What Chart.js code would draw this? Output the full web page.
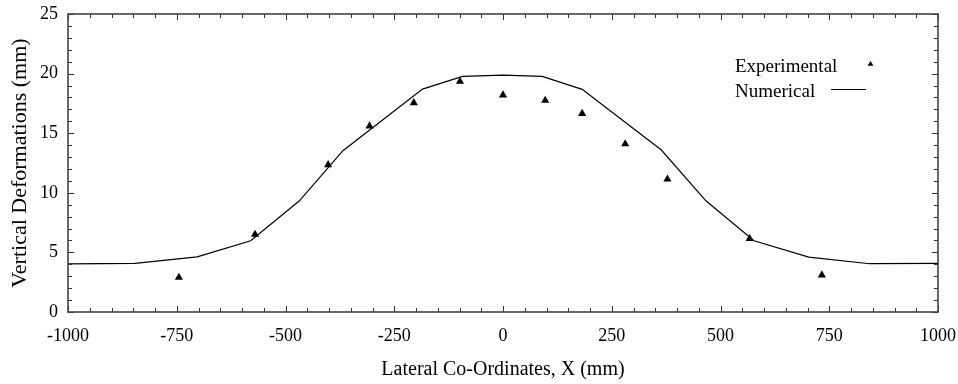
<!DOCTYPE html>
<html><head><meta charset="utf-8">
<script src="https://cdn.jsdelivr.net/npm/chart.js@4/dist/chart.umd.min.js"></script>
<style>html,body{margin:0;padding:0;background:#fff}</style>
</head><body>
<canvas id="c" width="958" height="384"></canvas>
<script>
// Experimental (triangles)
const expX = [-745, -570, -402, -307, -205, -99, 0, 97, 182, 281, 378, 567, 733];
const expY = [2.9, 6.5, 12.35, 15.6, 17.55, 19.35, 18.2, 17.75, 16.65, 14.1, 11.15, 6.15, 3.1];
// Numerical (line)
const numX = [-1000, -846, -703, -580, -468, -368, -185, -93, 0, 90, 182, 364, 467, 577, 703, 843, 1000];
const numY = [4.03, 4.08, 4.63, 5.98, 9.33, 13.53, 18.7, 19.77, 19.88, 19.77, 18.68, 13.59, 9.31, 5.98, 4.61, 4.05, 4.08];
const xTicks = [-1000, -750, -500, -250, 0, 250, 500, 750, 1000];
const yTicks = [0, 5, 10, 15, 20, 25];
const xMinorStep = 50;
const yMinorStep = 1;

const FONT = "'Liberation Serif', 'Times New Roman', serif";

function tri(ctx, x, y, r) {
  ctx.beginPath();
  ctx.moveTo(x, y - r);
  ctx.lineTo(x + r * 0.866, y + r * 0.5);
  ctx.lineTo(x - r * 0.866, y + r * 0.5);
  ctx.closePath();
  ctx.fill();
}

const frameTicks = {
  id: 'frameTicks',
  afterDatasetsDraw(chart) {
    const ctx = chart.ctx, a = chart.chartArea;
    const xs = chart.scales.x, ys = chart.scales.y;
    ctx.save();
    ctx.strokeStyle = '#333';
    ctx.lineWidth = 1;
    for (let v = xs.min; v <= xs.max + 1e-9; v += xMinorStep) {
      const px = Math.round(xs.getPixelForValue(v)) + 0.5;
      const major = xTicks.includes(Math.round(v));
      const L = major ? 6 : 4;
      ctx.beginPath();
      ctx.moveTo(px, a.bottom); ctx.lineTo(px, a.bottom - L);
      ctx.moveTo(px, a.top); ctx.lineTo(px, a.top + L);
      ctx.stroke();
    }
    for (let v = ys.min; v <= ys.max + 1e-9; v += yMinorStep) {
      const py = Math.round(ys.getPixelForValue(v)) + 0.5;
      const major = yTicks.includes(Math.round(v));
      const L = major ? 6 : 4;
      ctx.beginPath();
      ctx.moveTo(a.left, py); ctx.lineTo(a.left + L, py);
      ctx.moveTo(a.right, py); ctx.lineTo(a.right - L, py);
      ctx.stroke();
    }
    ctx.lineWidth = 1.6;
    ctx.strokeStyle = '#444';
    ctx.strokeRect(a.left, a.top, a.right - a.left, a.bottom - a.top);
    ctx.restore();
  }
};

const customLegend = {
  id: 'customLegend',
  afterDraw(chart) {
    const ctx = chart.ctx;
    const ds = chart.data.datasets;
    ctx.save();
    ctx.fillStyle = '#000';
    ctx.font = "19px " + FONT;
    ctx.textAlign = 'left';
    ctx.textBaseline = 'alphabetic';
    ctx.fillText(ds[0].label, 735, 71.5);
    ctx.fillText(ds[1].label, 735, 96.5);
    tri(ctx, 870.5, 64, 3.3);
    ctx.strokeStyle = '#000';
    ctx.lineWidth = 1;
    ctx.beginPath();
    ctx.moveTo(831, 89.5); ctx.lineTo(866, 89.5);
    ctx.stroke();
    ctx.restore();
  }
};

new Chart(document.getElementById('c'), {
  type: 'scatter',
  data: {
    datasets: [
      {
        label: 'Experimental',
        data: expX.map((x, i) => ({ x, y: expY[i] })),
        pointStyle: 'triangle',
        pointRadius: 4.7,
        backgroundColor: '#000',
        borderColor: '#000',
        borderWidth: 0,
        showLine: false,
        order: 0
      },
      {
        label: 'Numerical',
        data: numX.map((x, i) => ({ x, y: numY[i] })),
        showLine: true,
        pointRadius: 0,
        borderColor: '#000',
        borderWidth: 1.2,
        fill: false,
        tension: 0,
        order: 1
      }
    ]
  },
  options: {
    responsive: false,
    devicePixelRatio: 1,
    animation: false,
    layout: { padding: { left: 0, right: 20, top: 14, bottom: 0 } },
    plugins: { legend: { display: false }, tooltip: { enabled: false } },
    scales: {
      x: {
        type: 'linear',
        min: -1000, max: 1000,
        afterBuildTicks(s) { s.ticks = xTicks.map(v => ({ value: v })); },
        afterFit(s) { s.height = 72; s.paddingLeft = 0; s.paddingRight = 0; },
        grid: { display: false, drawTicks: false },
        border: { display: false },
        ticks: { color: '#000', font: { family: FONT, size: 18 }, padding: 13, maxRotation: 0, autoSkip: false,
                 callback: v => String(v) },
        title: { display: true, text: 'Lateral Co-Ordinates, X (mm)', color: '#000', font: { family: FONT, size: 20 }, padding: { top: 0, bottom: 2 } }
      },
      y: {
        type: 'linear',
        min: 0, max: 25,
        afterBuildTicks(s) { s.ticks = yTicks.map(v => ({ value: v })); },
        afterFit(s) { s.width = 68; s.paddingTop = 0; s.paddingBottom = 0; },
        grid: { display: false, drawTicks: false },
        border: { display: false },
        ticks: { color: '#000', font: { family: FONT, size: 18 }, padding: 10, callback: v => String(v) },
        title: { display: true, text: 'Vertical Deformations (mm)', color: '#000', font: { family: FONT, size: 22 }, padding: { top: 7, bottom: 0 } }
      }
    }
  },
  plugins: [frameTicks, customLegend]
});
</script>
</body></html>
